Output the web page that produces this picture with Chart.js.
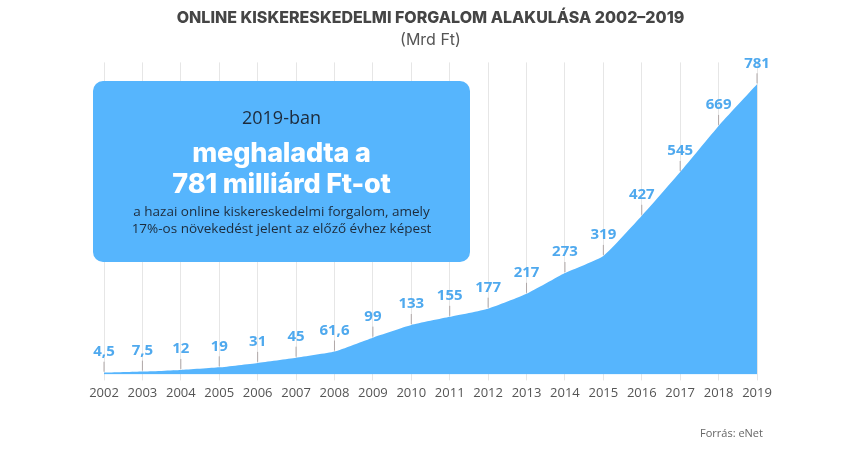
<!DOCTYPE html>
<html>
<head>
<meta charset="utf-8">
<script src="https://cdn.jsdelivr.net/npm/chart.js@4/dist/chart.umd.min.js"></script>
<style>
  html, body { margin: 0; padding: 0; background: #fff; }
  .wrap { position: relative; width: 860px; height: 450px; }
  .info {
    position: absolute; left: 93px; top: 81px; width: 377px; height: 181px;
    background: #56b5fd; border-radius: 10px; text-align: center;
    font-family: "Open Sans", sans-serif; color: #1d2b3b;
  }
  .info .lead { position: absolute; top: 24px; width: 100%; font-size: 18px; }
  .info .big {
    position: absolute; top: 56px; width: 100%; font-family: Inter, sans-serif;
    font-weight: 800; font-size: 27px; line-height: 31px; color: #fff; letter-spacing: -0.2px;
  }
  .info .small { position: absolute; top: 122px; width: 100%; font-size: 13.5px; line-height: 17px; }
  .source {
    position: absolute; left: 700px; top: 425px; font-family: "Open Sans", sans-serif;
    font-size: 11px; color: #666;
  }
</style>
</head>
<body>
<div class="wrap">
  <canvas id="areaChart" width="860" height="450"></canvas>
  <div class="info">
    <div class="lead">2019-ban</div>
    <div class="big">meghaladta a<br>781 milliárd Ft-ot</div>
    <div class="small">a hazai online kiskereskedelmi forgalom, amely<br>17%-os növekedést jelent az előző évhez képest</div>
  </div>
  <div class="source">Forrás: eNet</div>
</div>
<script>
const years = ["2002", "2003", "2004", "2005", "2006", "2007", "2008", "2009", "2010",
  "2011", "2012", "2013", "2014", "2015", "2016", "2017", "2018", "2019"];
const turnover = [4.5, 7.5, 12, 19, 31, 45, 61.6, 99, 133, 155, 177, 217, 273, 319, 427, 545, 669, 781];
const valueLabels = ["4,5", "7,5", "12", "19", "31", "45", "61,6", "99", "133", "155", "177",
  "217", "273", "319", "427", "545", "669", "781"];

const blue = "#56b5fd";

// value labels with a thin leader line down to the point
const labelPlugin = {
  id: "valueLabels",
  afterDatasetsDraw(chart) {
    const ctx = chart.ctx;
    const meta = chart.getDatasetMeta(0);
    ctx.save();
    ctx.font = "bold 15px 'Open Sans', sans-serif";
    ctx.textAlign = "center";
    ctx.textBaseline = "middle";
    meta.data.forEach((pt, i) => {
      const ly = pt.y - 21;
      ctx.strokeStyle = "#b0a8a8";
      ctx.lineWidth = 1;
      ctx.beginPath();
      ctx.moveTo(pt.x, pt.y - 1);
      ctx.lineTo(pt.x, ly + 10);
      ctx.stroke();
      ctx.fillStyle = "#4fa9ee";
      ctx.fillText(valueLabels[i], pt.x, ly);
    });
    ctx.restore();
  },
};

new Chart(document.getElementById("areaChart"), {
  type: "line",
  data: {
    labels: years,
    datasets: [
      {
        data: turnover,
        fill: "origin",
        backgroundColor: blue,
        borderColor: blue,
        borderWidth: 0,
        pointRadius: 0,
        tension: 0.15,
      },
    ],
  },
  options: {
    responsive: false,
    animation: false,
    layout: { padding: { left: 104, right: 103, top: 0, bottom: 44 } },
    plugins: {
      legend: { display: false },
      tooltip: { enabled: false },
      title: {
        display: true,
        text: "ONLINE KISKERESKEDELMI FORGALOM ALAKULÁSA 2002–2019",
        color: "#454545",
        font: { family: "Inter", size: 16, weight: "800" },
        padding: { top: 9, bottom: 0 },
      },
      subtitle: {
        display: true,
        text: "(Mrd Ft)",
        color: "#555",
        font: { family: "Inter", size: 16, weight: "normal" },
        padding: { top: 2, bottom: 13 },
      },
    },
    scales: {
      x: {
        offset: false,
        grid: { color: "#e6e6e6", tickLength: 6, drawOnChartArea: true },
        border: { display: false },
        ticks: { color: "#555", padding: 5, font: { family: "Open Sans", size: 13 }, maxRotation: 0, autoSkip: false },
      },
      y: { display: false, min: 0, max: 840 },
    },
  },
  plugins: [labelPlugin],
});
</script>
</body>
</html>
